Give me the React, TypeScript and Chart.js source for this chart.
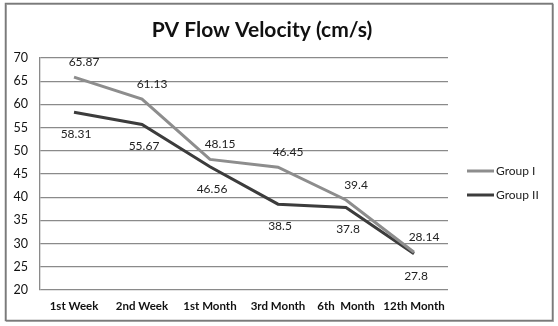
import React, { useEffect, useRef } from "react";
import { Chart, registerables } from "chart.js";

Chart.register(...registerables);

const categories = ["1st Week", "2nd Week", "1st Month", "3rd Month", "6th  Month", "12th Month"];
const groupI = [65.87, 61.13, 48.15, 46.45, 39.4, 28.14];
const groupII = [58.31, 55.67, 46.56, 38.5, 37.8, 27.8];
const seriesNames = ["Group I", "Group II"];
const chartTitle = "PV Flow Velocity (cm/s)";

const FONT = "Lato, 'Liberation Sans', sans-serif";
const COLORS = ["#8d8d8d", "#3c3c3c"];

const framePlugin = {
  id: "frame",
  beforeDraw(chart: any) {
    const ctx = chart.ctx;
    ctx.save();
    ctx.fillStyle = "#ffffff";
    ctx.fillRect(0, 0, chart.width, chart.height);
    ctx.strokeStyle = "#b0b0b0";
    ctx.lineWidth = 1;
    ctx.strokeRect(6.5, 4.5, 547, 317);
    ctx.strokeStyle = "#7a7a7a";
    ctx.lineWidth = 1.5;
    ctx.strokeRect(5.5, 3.5, 547, 317);
    ctx.restore();
  },
  afterDraw(chart: any) {
    const ctx = chart.ctx;
    ctx.save();
    ctx.fillStyle = "#111";
    ctx.font = `bold 21px ${FONT}`;
    ctx.textAlign = "center";
    ctx.textBaseline = "middle";
    ctx.fillText(chartTitle, 262, 30);
    ctx.font = `12px ${FONT}`;
    ctx.textAlign = "left";
    const ys = [171, 195];
    seriesNames.forEach((n, i) => {
      ctx.strokeStyle = COLORS[i];
      ctx.lineWidth = 3;
      ctx.beginPath();
      ctx.moveTo(467, ys[i]);
      ctx.lineTo(494, ys[i]);
      ctx.stroke();
      ctx.fillStyle = "#222";
      ctx.fillText(n, 496, ys[i]);
    });
    ctx.restore();
  },
};

const labelPlugin = {
  id: "valueLabels",
  afterDatasetsDraw(chart: any) {
    const ctx = chart.ctx;
    ctx.save();
    ctx.font = `12px ${FONT}`;
    ctx.fillStyle = "#222";
    ctx.textAlign = "center";
    ctx.textBaseline = "middle";
    chart.data.datasets.forEach((ds: any, di: number) => {
      const meta = chart.getDatasetMeta(di);
      meta.data.forEach((pt: any, i: number) => {
        const v = ds.data[i];
        const dy = di === 0 ? -15 : 22;
        const dx = di === 0 ? 10 : 2;
        ctx.fillText(String(v), pt.x + dx, pt.y + dy);
      });
    });
    ctx.restore();
  },
};

export default function App() {
  const ref = useRef<HTMLCanvasElement>(null);
  useEffect(() => {
    document.body.style.margin = "0";
    const chart = new Chart(ref.current as HTMLCanvasElement, {
      type: "line",
      data: {
        labels: categories,
        datasets: [
          {
            label: seriesNames[0],
            data: groupI,
            borderColor: COLORS[0],
            backgroundColor: COLORS[0],
            borderWidth: 3,
            pointRadius: 0,
            tension: 0,
          },
          {
            label: seriesNames[1],
            data: groupII,
            borderColor: COLORS[1],
            backgroundColor: COLORS[1],
            borderWidth: 3,
            pointRadius: 0,
            tension: 0,
          },
        ],
      },
      options: {
        animation: false,
        responsive: false,
        layout: { padding: { left: 0, top: 58, right: 110, bottom: 8 } },
        plugins: {
          legend: { display: false },
          title: { display: false },
          tooltip: { enabled: false },
        },
        scales: {
          x: {
            offset: true,
            grid: { display: false, drawTicks: false },
            border: { display: false },
            ticks: {
              color: "#111",
              font: { family: FONT, size: 11.5, weight: "bold" },
              padding: 9,
              maxRotation: 0,
              autoSkip: false,
            },
            afterFit(scale: any) {
              scale.height = 28;
            },
          },
          y: {
            min: 20,
            max: 70,
            ticks: {
              stepSize: 5,
              color: "#111",
              font: { family: FONT, size: 12.5 },
              padding: 12,
            },
            grid: { color: "#8a8a8a", lineWidth: 1.3, drawTicks: false },
            border: { display: true, color: "#8a8a8a", width: 1.3 },
            afterFit(scale: any) {
              scale.width = 40;
            },
          },
        },
      },
      plugins: [framePlugin, labelPlugin],
    });
    return () => chart.destroy();
  }, []);
  return (
    <div style={{ width: 558, height: 326 }}>
      <canvas ref={ref} width={558} height={326} style={{ display: "block" }} />
    </div>
  );
}
